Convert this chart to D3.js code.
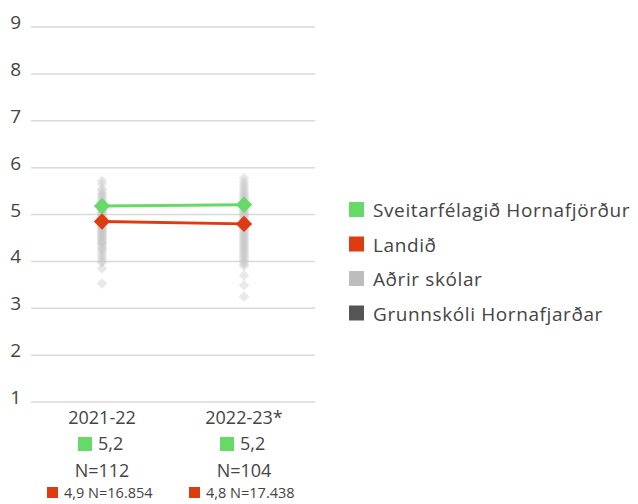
<!DOCTYPE html>
<html lang="is">
<head>
<meta charset="utf-8">
<script src="https://d3js.org/d3.v7.min.js"></script>
<style>
  body { margin: 0; background: #fff; }
  text { font-family: "Open Sans", sans-serif; fill: #444; }
</style>
</head>
<body>
<div id="chart"></div>
<script>
  // data
  var categories = ["2021-22", "2022-23*"];
  var sveitarfelag = [5.18, 5.21];
  var landid = [4.85, 4.80];
  var sveitLabels = ["5,2", "5,2"];
  var sveitN = ["N=112", "N=104"];
  var landLabels = ["4,9 N=16.854", "4,8 N=17.438"];
  var yTicks = [1, 2, 3, 4, 5, 6, 7, 8, 9];
  var adrir2021 = [5.72, 5.65, 5.55, 5.5, 5.45, 5.42, 5.38, 5.35, 5.3, 5.28, 5.25, 5.22, 5.2, 5.17,
    5.15, 5.12, 5.1, 5.08, 5.05, 5.02, 5.0, 4.98, 4.95, 4.92, 4.9, 4.87, 4.85, 4.82, 4.8, 4.78,
    4.75, 4.72, 4.7, 4.67, 4.65, 4.62, 4.6, 4.57, 4.55, 4.52, 4.5, 4.47, 4.45, 4.42, 4.4, 4.37,
    4.35, 4.3, 4.27, 4.25, 4.2, 4.15, 4.1, 4.05, 4.0, 3.97, 3.85, 3.53];
  var adrir2022 = [5.78, 5.7, 5.65, 5.6, 5.55, 5.5, 5.46, 5.42, 5.38, 5.35, 5.32, 5.28, 5.25, 5.22,
    5.2, 5.17, 5.14, 5.1, 5.08, 5.05, 5.02, 5.0, 4.97, 4.94, 4.9, 4.87, 4.84, 4.8, 4.77, 4.74,
    4.7, 4.67, 4.64, 4.6, 4.57, 4.54, 4.5, 4.47, 4.44, 4.4, 4.37, 4.34, 4.3, 4.27, 4.24, 4.2,
    4.17, 4.13, 4.1, 4.06, 4.02, 3.98, 3.94, 3.9, 3.7, 3.49, 3.25];
  var legendNames = ["Sveitarfélagið Hornafjörður", "Landið", "Aðrir skólar", "Grunnskóli Hornafjarðar"];
  var legendColors = ["#66d966", "#dd3b12", "#bdbdbd", "#555555"];

  var width = 638, height = 504;
  var margin = {top: 27, right: 323, bottom: 102, left: 31};

  var svg = d3.select("#chart").append("svg")
    .attr("width", width).attr("height", height);

  var x = d3.scaleBand()
    .domain(categories)
    .range([margin.left, width - margin.right]);

  var y = d3.scaleLinear()
    .domain([1, 9])
    .range([height - margin.bottom, margin.top]);

  // gridlines
  svg.append("g")
    .selectAll("line")
    .data(yTicks)
    .join("line")
      .attr("x1", margin.left).attr("x2", width - margin.right)
      .attr("y1", d => y(d)).attr("y2", d => y(d))
      .attr("stroke", "#d9d9d9").attr("stroke-width", 1.5);

  var yAxis = svg.append("g")
    .attr("transform", `translate(${margin.left - 10},0)`)
    .call(d3.axisLeft(y).tickValues(yTicks).tickSize(0).tickPadding(0));
  yAxis.select(".domain").remove();
  yAxis.selectAll("text").style("font-size", "19px").attr("fill", "#444")
    .style("font-family", "'Open Sans', sans-serif").attr("dy", "0.08em");

  var diamond = d3.symbol().type(d3.symbolDiamond2);

  // other schools
  var others = [adrir2021, adrir2022];
  others.forEach(function(vals, i) {
    svg.append("g")
      .selectAll("path")
      .data(vals)
      .join("path")
        .attr("d", diamond.size(70)())
        .attr("transform", d => `translate(${x(categories[i]) + x.bandwidth() / 2},${y(d)})`)
        .attr("fill", "#c8c8c8")
        .attr("fill-opacity", 0.4);
  });

  var cx = d => x(d) + x.bandwidth() / 2;

  function series(vals, color) {
    var line = d3.line()
      .x((d, i) => cx(categories[i]))
      .y(d => y(d));
    svg.append("path")
      .datum(vals)
      .attr("d", line)
      .attr("fill", "none")
      .attr("stroke", color)
      .attr("stroke-width", 3);
    svg.append("g")
      .selectAll("path")
      .data(vals)
      .join("path")
        .attr("d", diamond.size(170)())
        .attr("transform", (d, i) => `translate(${cx(categories[i])},${y(d)})`)
        .attr("fill", color);
  }
  series(landid, "#dd3b12");
  series(sveitarfelag, "#66d966");

  // category labels underneath
  var under = svg.append("g");
  categories.forEach(function(c, i) {
    var px = cx(c);
    under.append("text").attr("x", px).attr("y", 424)
      .attr("text-anchor", "middle").style("font-size", "18px").text(c);

    under.append("rect").attr("x", px - 24).attr("y", 437).attr("width", 14).attr("height", 14)
      .attr("fill", "#66d966");
    under.append("text").attr("x", px - 4).attr("y", 450)
      .style("font-size", "18px").text(sveitLabels[i]);

    under.append("text").attr("x", px).attr("y", 477)
      .attr("text-anchor", "middle").style("font-size", "18px").text(sveitN[i]);

    under.append("rect").attr("x", px - 55).attr("y", 487).attr("width", 11).attr("height", 11)
      .attr("fill", "#dd3b12");
    under.append("text").attr("x", px - 38).attr("y", 498)
      .style("font-size", "14.5px").text(landLabels[i]);
  });

  // legend
  var legend = svg.append("g").attr("transform", "translate(349,202)");
  legend.selectAll("g")
    .data(legendNames)
    .join("g")
      .attr("transform", (d, i) => `translate(0,${i * 34.5})`)
      .each(function(d, i) {
        var g = d3.select(this);
        g.append("rect").attr("width", 15).attr("height", 15).attr("fill", legendColors[i]);
        g.append("text").attr("x", 24).attr("y", 15).style("font-size", "19px")
          .style("letter-spacing", "0.6px").text(d);
      });
</script>
</body>
</html>
